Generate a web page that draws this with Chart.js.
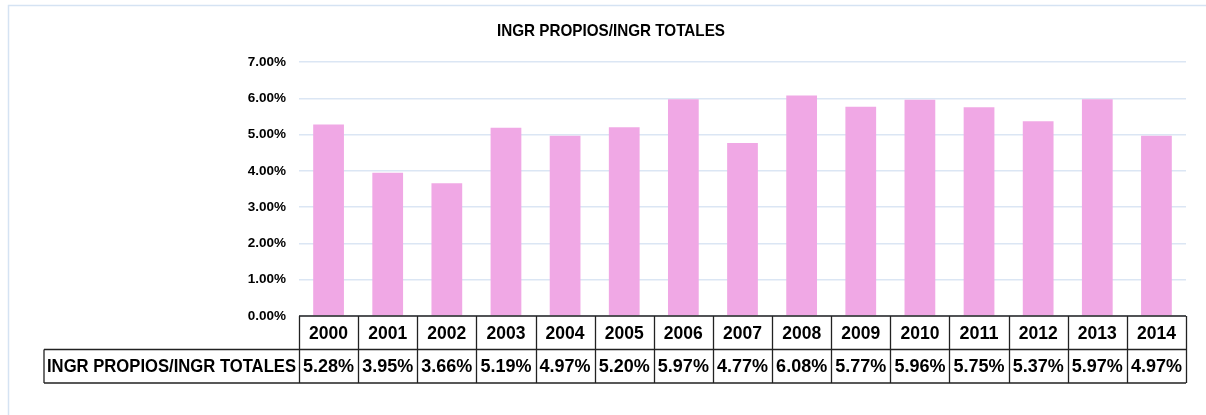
<!DOCTYPE html>
<html lang="es">
<head>
  <meta charset="UTF-8" />
  <title>INGR PROPIOS/INGR TOTALES</title>
  <script src="https://cdn.jsdelivr.net/npm/chart.js"></script>
  <style>
    body { margin: 0; padding: 0; background: #fff; }
    .wrap { width: 1206px; height: 415px; }
  </style>
</head>
<body>
  <div class="wrap"><canvas id="ingrChart" width="1206" height="415"></canvas></div>

  <script>
    const years = ['2000', '2001', '2002', '2003', '2004', '2005', '2006', '2007',
                   '2008', '2009', '2010', '2011', '2012', '2013', '2014'];
    const ratio = [5.28, 3.95, 3.66, 5.19, 4.97, 5.20, 5.97, 4.77,
                   6.08, 5.77, 5.96, 5.75, 5.37, 5.97, 4.97];
    const seriesName = 'INGR PROPIOS/INGR TOTALES';
    const yTicks = [0, 1, 2, 3, 4, 5, 6, 7];

    const FONT = "'Liberation Sans', Arial, sans-serif";

    // frame, title and the data table under the bars
    const tablePlugin = {
      id: 'dataTable',
      beforeDraw(chart) {
        const c = chart.ctx;
        c.save();
        c.strokeStyle = '#d5e3f3';
        c.lineWidth = 1.5;
        c.strokeRect(8.5, 5.5, 1220, 440);
        c.restore();
      },
      afterDraw(chart) {
        const c = chart.ctx;
        const x = chart.scales.x;
        const area = chart.chartArea;
        const rowH = 33.5;
        const top = area.bottom;
        const half = (x.getPixelForValue(1) - x.getPixelForValue(0)) / 2;
        const left = x.getPixelForValue(0) - half;
        const right = x.getPixelForValue(years.length - 1) + half;
        const labelLeft = 44;

        c.save();
        // title (text condensed a bit, the original font is narrower)
        c.fillStyle = '#000';
        c.font = 'bold 17px ' + FONT;
        c.textAlign = 'center';
        c.textBaseline = 'middle';
        c.fillText(seriesName, 611, 31, 228);

        c.strokeStyle = '#222';
        c.lineWidth = 1.3;
        c.beginPath();
        c.moveTo(left, top); c.lineTo(right, top);
        c.moveTo(labelLeft, top + rowH); c.lineTo(right, top + rowH);
        c.moveTo(labelLeft, top + 2 * rowH); c.lineTo(right, top + 2 * rowH);
        c.moveTo(labelLeft, top + rowH); c.lineTo(labelLeft, top + 2 * rowH);
        for (let i = 0; i <= years.length; i++) {
          const px = Math.round(left + i * 2 * half) + 0.5;
          c.moveTo(px, top); c.lineTo(px, top + 2 * rowH);
        }
        c.stroke();

        c.font = 'bold 18px ' + FONT;
        years.forEach((yr, i) => {
          const cx = x.getPixelForValue(i);
          c.fillText(yr, cx, top + rowH / 2 + 1, 39);
          c.fillText(ratio[i].toFixed(2) + '%', cx, top + rowH * 1.5 + 1, 56);
        });
        c.textAlign = 'left';
        c.fillText(seriesName, labelLeft + 3, top + rowH * 1.5 + 1, 249);
        c.restore();
      }
    };

    new Chart(document.getElementById('ingrChart'), {
      type: 'bar',
      data: {
        labels: years,
        datasets: [{
          label: seriesName,
          data: ratio,
          backgroundColor: '#f0a8e5',
          borderWidth: 0,
          categoryPercentage: 1,
          barPercentage: 0.52
        }]
      },
      options: {
        responsive: false,
        animation: false,
        layout: { padding: { left: 36, right: 20, top: 62, bottom: 99 } },
        plugins: {
          legend: { display: false },
          tooltip: { enabled: false },
          title: { display: false }
        },
        scales: {
          x: { display: false },
          y: {
            min: 0,
            max: 7,
            afterFit(scale) { scale.width = 263; },
            afterBuildTicks(scale) { scale.ticks = yTicks.map(v => ({ value: v })); },
            border: { display: false },
            grid: { color: '#dbe6f4', lineWidth: 1.5, drawTicks: false },
            ticks: {
              color: '#000',
              padding: 13,
              font: { family: FONT, size: 13.5, weight: 'bold' },
              callback: v => v.toFixed(2) + '%'
            }
          }
        }
      },
      plugins: [tablePlugin]
    });
  </script>
</body>
</html>
